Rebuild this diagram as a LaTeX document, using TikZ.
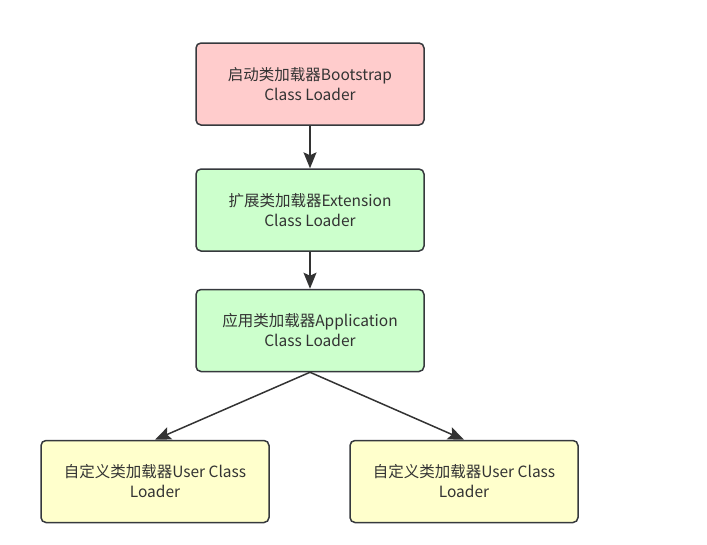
\documentclass[tikz,border=0pt]{standalone}
\usepackage{fontspec}
\setmainfont{Noto Sans CJK SC}
\usetikzlibrary{arrows.meta}

\definecolor{boxline}{HTML}{36393D}
\definecolor{boxtext}{HTML}{333333}
\definecolor{redfill}{HTML}{FFCCCC}
\definecolor{greenfill}{HTML}{CCFFCC}
\definecolor{yellowfill}{HTML}{FFFFCC}

\tikzset{
    loaderbox/.style={draw=boxline, line width=1.5pt, rounded corners=5pt,
        minimum width=228pt, minimum height=82pt, inner sep=0pt,
        align=center, text=boxtext,
        font=\fontsize{15.5}{20}\selectfont},
    parentarrow/.style={draw=boxtext, line width=1.5pt,
        -{Stealth[length=16pt,width=13pt,inset=3pt]}},
}

\begin{document}
\begin{tikzpicture}[x=1pt, y=-1pt]
        \useasboundingbox (0,0) rectangle (707,544);

        % Bootstrap.
        \node[loaderbox, fill=redfill] (boot) at (310,84) {启动类加载器Bootstrap\\Class Loader};
        % Extension.
        \node[loaderbox, fill=greenfill] (ext) at (310,210) {扩展类加载器Extension\\Class Loader};
        % Application.
        \node[loaderbox, fill=greenfill] (app) at (310,330.5) {应用类加载器Application\\Class Loader};
        % User.
        \node[loaderbox, fill=yellowfill] (userl) at (155,481.5) {自定义类加载器User Class\\Loader};
        \node[loaderbox, fill=yellowfill] (userr) at (464,481.5) {自定义类加载器User Class\\Loader};

        \draw[parentarrow] (boot) -- (ext);
        \draw[parentarrow] (ext) -- (app);
        \draw[parentarrow] (app.south) -- (userl.north);
        \draw[parentarrow] (app.south) -- (userr.north);
    \end{tikzpicture}
\end{document}
